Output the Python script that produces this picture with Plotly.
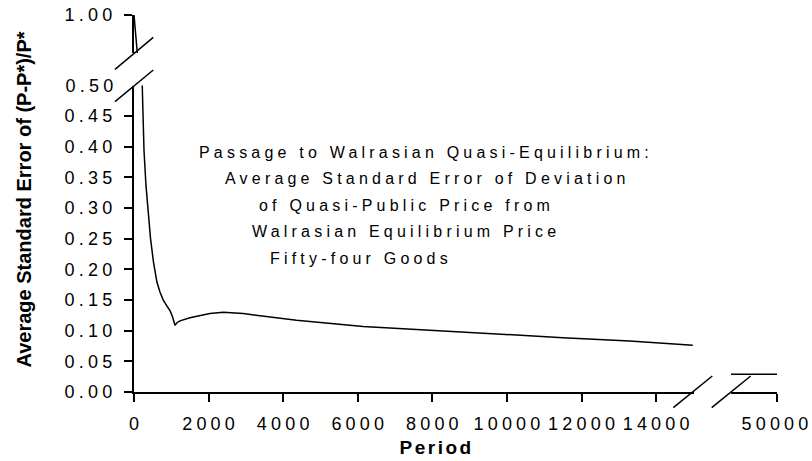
import plotly.graph_objects as go

# ---------------- data ----------------
periods = [0, 206, 268, 321, 375, 442, 522, 616, 696, 785, 884, 964, 1037, 1098,
           1152, 1232, 1500, 1768, 2036, 2392, 2928, 4357, 6142, 7929, 9715,
           11499, 13286, 14981]
std_error = [1.000, 0.500, 0.394, 0.337, 0.293, 0.251, 0.212, 0.179, 0.163, 0.150,
             0.140, 0.133, 0.122, 0.109, 0.113, 0.116, 0.121, 0.125, 0.128, 0.130,
             0.128, 0.117, 0.107, 0.1006, 0.0952, 0.0887, 0.0831, 0.0761]

late_periods = [45000, 50000]
late_error = [0.029, 0.029]

x_ticks = [0, 2000, 4000, 6000, 8000, 10000, 12000, 14000]
x2_ticks = [50000]
y_ticks = [0.00, 0.05, 0.10, 0.15, 0.20, 0.25, 0.30, 0.35, 0.40, 0.45]
y_top_ticks = [1.00]
y_break_ticks = [0.50]

title_lines = [
    "Passage to Walrasian Quasi-Equilibrium:",
    "Average Standard Error of Deviation",
    "of Quasi-Public Price from",
    "Walrasian Equilibrium Price",
    "Fifty-four Goods",
]
y_title = "Average Standard Error of (P-P*)/P*"
x_title = "Period"

# ---------------- layout helpers ----------------
W, H = 812, 461
def px(x):
    return x / W
def py(y):
    return 1 - y / H

FONT = "Liberation Sans, Arial, sans-serif"
line_style = dict(color="black", width=1.5)

fig = go.Figure()
fig.add_trace(go.Scatter(x=periods, y=std_error, mode="lines", line=line_style,
                         xaxis="x", yaxis="y", showlegend=False, hoverinfo="skip"))
fig.add_trace(go.Scatter(x=periods, y=std_error, mode="lines", line=line_style,
                         xaxis="x", yaxis="y2", showlegend=False, hoverinfo="skip"))
fig.add_trace(go.Scatter(x=late_periods, y=late_error, mode="lines", line=line_style,
                         xaxis="x2", yaxis="y", showlegend=False, hoverinfo="skip"))
# empty trace so the break-label axis (0.50) gets drawn
fig.add_trace(go.Scatter(x=[], y=[], mode="lines", xaxis="x", yaxis="y3",
                         showlegend=False, hoverinfo="skip"))

axis_common = dict(showline=True, linecolor="black", linewidth=2, ticks="outside",
                   ticklen=8, tickwidth=2, tickcolor="black", showgrid=False,
                   zeroline=False, automargin=False,
                   tickfont=dict(family=FONT, size=18, color="black"))

fig.update_layout(
    template="none",
    width=W, height=H, autosize=False,
    margin=dict(l=0, r=0, t=0, b=0, pad=0),
    paper_bgcolor="white", plot_bgcolor="white",
    xaxis=dict(domain=[px(134), px(693.5)], range=[0, 15000], tickvals=x_ticks,
               tickformat="d", anchor="y", ticklabelstandoff=6, ticklabelshift=2,
               **axis_common),
    xaxis2=dict(domain=[px(731), px(777)], range=[45000, 50000], tickvals=x2_ticks,
                tickformat="d", anchor="y", ticklabelstandoff=6, ticklabelshift=0,
                **axis_common),
    yaxis=dict(domain=[py(392), py(85.5)], range=[0, 0.5], tickvals=y_ticks,
               tickformat=".2f", anchor="x", ticklabelstandoff=4, **axis_common),
    yaxis2=dict(domain=[py(53), py(15)], range=[0.8, 1.0], tickvals=y_top_ticks,
                tickformat=".2f", anchor="x", ticklabelstandoff=4, **axis_common),
    yaxis3=dict(overlaying="y", range=[0, 0.5], tickvals=y_break_ticks,
                tickformat=".2f", anchor="x", side="left", showline=False,
                ticks="outside", ticklen=8, tickcolor="rgba(0,0,0,0)",
                ticklabelstandoff=4, showgrid=False, zeroline=False, automargin=False,
                tickfont=dict(family=FONT, size=18, color="black")),
)

# axis break marks
breaks = [
    (673.3, 407.7, 712.3, 376.0),
    (711.7, 407.7, 750.7, 376.0),
    (115.0, 69.3, 153.3, 37.3),
    (115.0, 101.7, 153.3, 70.0),
]
for x0, y0, x1, y1 in breaks:
    fig.add_shape(type="line", xref="paper", yref="paper",
                  x0=px(x0), y0=py(y0), x1=px(x1), y1=py(y1),
                  line=dict(color="black", width=1.5))

# chart text block (left-aligned lines)
line_x = [197, 223, 257, 250, 268]
line_y = [152, 178.5, 205, 231.5, 258]
for txt, lx, ly in zip(title_lines, line_x, line_y):
    fig.add_annotation(text=txt, xref="paper", yref="paper", x=px(lx), y=py(ly),
                       xanchor="left", yanchor="middle", align="left",
                       showarrow=False,
                       font=dict(family=FONT, size=16, color="black"))

fig.add_annotation(text="<b>" + y_title + "</b>", xref="paper", yref="paper",
                   x=px(23), y=py(199.5), xanchor="center", yanchor="middle",
                   textangle=-90, showarrow=False,
                   font=dict(family=FONT, size=20, color="black"))
fig.add_annotation(text="<b>" + x_title + "</b>", xref="paper", yref="paper",
                   x=px(436), y=py(447), xanchor="center", yanchor="middle",
                   showarrow=False,
                   font=dict(family=FONT, size=19, color="black"))

css = ("html,body{margin:0;padding:0;overflow:hidden;}"
       "g.xtick text, g.x2tick text, g.ytick text, g.y2tick text, g.y3tick text"
       "{letter-spacing:4.2px;}"
       "g.annotation[data-index='0'] text, g.annotation[data-index='1'] text,"
       "g.annotation[data-index='2'] text, g.annotation[data-index='3'] text,"
       "g.annotation[data-index='4'] text{letter-spacing:4.2px;}"
       "g.annotation[data-index='6'] text{letter-spacing:2.5px;}")
post = ("var s=document.createElement('style');s.textContent=\"" + css +
        "\";document.head.appendChild(s);document.body.style.margin='0';")

fig.write_html("out.html", post_script=post)
